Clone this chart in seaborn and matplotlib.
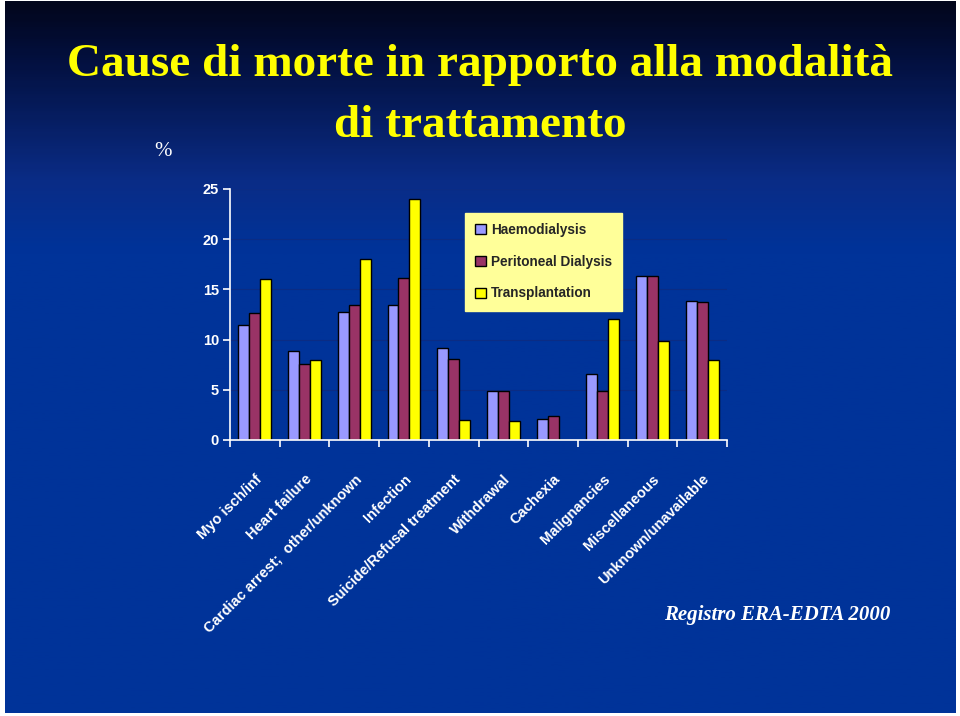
import matplotlib
matplotlib.use('Agg')
import matplotlib.pyplot as plt
import numpy as np
import pandas as pd
import seaborn as sns
from matplotlib.colors import LinearSegmentedColormap
from matplotlib.patches import Patch

causes = ['Myo isch/inf', 'Heart failure', 'Cardiac arrest;  other/unknown', 'Infection',
          'Suicide/Refusal treatment', 'Withdrawal', 'Cachexia', 'Malignancies',
          'Miscellaneous', 'Unknown/unavailable']
modalities = ['Haemodialysis', 'Peritoneal Dialysis', 'Transplantation']
haemodialysis = [11.5, 8.9, 12.7, 13.4, 9.2, 4.9, 2.1, 6.6, 16.3, 13.8]
peritoneal = [12.6, 7.6, 13.4, 16.1, 8.1, 4.9, 2.4, 4.9, 16.3, 13.7]
transplant = [16.0, 8.0, 18.0, 24.0, 2.0, 1.9, 0.0, 12.0, 9.9, 8.0]
y_ticks = [0, 5, 10, 15, 20, 25]

colors = ['#9999FF', '#993366', '#FFFF00']

rows = []
for name, vals in zip(modalities, (haemodialysis, peritoneal, transplant)):
    for c, v in zip(causes, vals):
        rows.append({'cause': c, 'modality': name, 'pct': v})
df = pd.DataFrame(rows)

sns.set_style('white')
plt.rcParams['font.family'] = ['Liberation Sans', 'DejaVu Sans']

fig = plt.figure(figsize=(9.6, 7.16), dpi=100)
fig.patch.set_facecolor('white')

# background gradient
bg = fig.add_axes([0.005, 0.004, 0.99, 0.994])
bg.set_zorder(-10)
grad = np.linspace(0, 1, 300).reshape(-1, 1)
cmap = LinearSegmentedColormap.from_list('bg', [(0, '#02061c'), (0.08, '#03103f'),
                                                 (0.25, '#0a2c86'), (0.35, '#003399'),
                                                 (1, '#003399')])
bg.imshow(grad, aspect='auto', cmap=cmap, extent=[0, 1, 0, 1], origin='upper')
bg.set_xlim(0, 1)
bg.set_ylim(0, 1)
bg.axis('off')

ax = fig.add_axes([0.2396, 0.3855, 0.5177, 0.3506])
ax.patch.set_alpha(0)
sns.barplot(data=df, x='cause', y='pct', hue='modality', palette=colors, width=0.66,
            saturation=1, edgecolor='black', linewidth=1, ax=ax, legend=False)

ax.set_xlim(-0.5, len(causes) - 0.5)
ax.set_ylim(0, 25)
ax.set_yticks(y_ticks)
ax.set_xlabel('')
ax.set_ylabel('')
for s in ('top', 'right'):
    ax.spines[s].set_visible(False)
for s in ('left', 'bottom'):
    ax.spines[s].set_color('white')
    ax.spines[s].set_linewidth(1.2)
ax.yaxis.grid(True, color='#0b2c84', linewidth=0.8)
ax.set_axisbelow(True)

ax.set_xticks(np.arange(-0.5, len(causes)), minor=True)
ax.tick_params(axis='x', which='minor', bottom=True, length=5, width=1.2, color='white',
               direction='out')
ax.tick_params(axis='x', which='major', bottom=True, length=0, pad=23)
ax.tick_params(axis='y', left=True, length=5, width=1.2, color='white', direction='out', pad=3,
               labelcolor='white', labelsize=10.5)
for lab in ax.get_yticklabels():
    lab.set_fontweight('bold')
ax.set_xticks(range(len(causes)))
ax.set_xticklabels(causes, rotation=45, ha='right', rotation_mode='anchor',
                   color='white', fontsize=10.5, fontweight='bold')

handles = [Patch(facecolor=c, edgecolor='black', linewidth=1) for c in colors]
leg = ax.legend(handles, modalities, loc='upper left', bbox_to_anchor=(0.473, 0.905),
                frameon=True, fancybox=False, handlelength=0.75, handleheight=0.75,
                handletextpad=0.4, labelspacing=1.3, borderpad=0.75, borderaxespad=0,
                prop={'size': 9.8, 'weight': 'bold'})
leg.get_frame().set_facecolor('#FFFF99')
leg.get_frame().set_edgecolor('#FFFF99')
leg.get_frame().set_alpha(1)

fig.text(0.5, 1 - 65 / 716, 'Cause di morte in rapporto alla modalità', ha='center', va='center',
         color='#FFFF00', fontsize=34, fontweight='bold', family='Liberation Serif')
fig.text(0.5, 1 - 126 / 716, 'di trattamento', ha='center', va='center',
         color='#FFFF00', fontsize=34, fontweight='bold', family='Liberation Serif')
fig.text(163 / 960, 1 - 152 / 716, '%', ha='center', va='center', color='white',
         fontsize=15, family='Liberation Serif')
fig.text(777 / 960, 1 - 615 / 716, 'Registro ERA-EDTA 2000', ha='center', va='center',
         color='white', fontsize=15, fontweight='bold', fontstyle='italic',
         family='Liberation Serif')

plt.savefig('out.png', dpi=100, facecolor=fig.get_facecolor())
